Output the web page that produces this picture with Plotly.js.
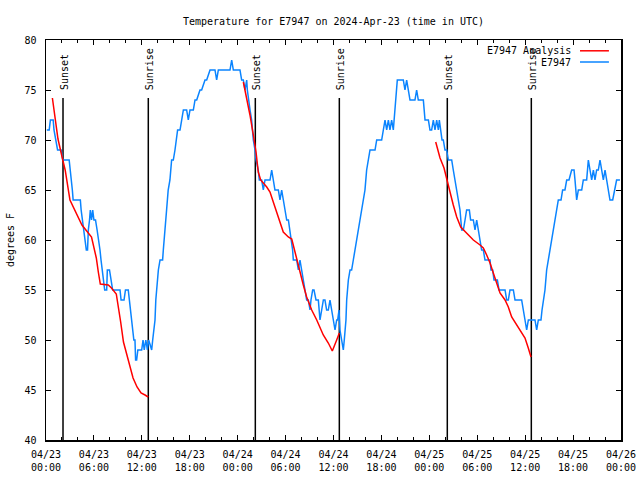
<!DOCTYPE html>
<html>
<head>
<meta charset="utf-8">
<script src="https://cdn.plot.ly/plotly-3.0.1.min.js"></script>
<style>html,body{margin:0;padding:0;background:#fff;}#chart{width:640px;height:480px;}</style>
</head>
<body>
<div id="chart"></div>
<script>
// ---- data (hours since 2024-04-23 00:00 UTC) ----
const blueHours = [0.1,0.4,0.55,0.9,1.0,1.2,1.45,1.9,2.1,2.9,3.05,3.2,3.3,3.4,4.3,4.4,4.55,4.7,4.85,5.05,5.2,5.3,5.45,5.55,5.7,5.85,6.0,6.2,6.4,6.6,6.76,6.89,7.05,7.2,7.35,7.6,7.68,7.95,8.14,8.35,9.27,9.4,9.77,9.95,10.3,10.45,10.6,10.78,10.85,11.0,11.14,11.22,11.35,11.5,11.98,12.15,12.3,12.5,12.7,12.85,13.05,13.23,13.36,13.5,13.65,13.75,13.94,14.07,14.28,14.6,14.69,14.85,15.1,15.3,15.52,15.73,15.94,16.15,16.36,16.48,16.78,16.99,17.2,17.4,17.61,17.82,18.03,18.45,18.66,18.87,19.28,19.49,19.91,20.12,20.54,20.95,21.16,21.37,21.58,23.04,23.25,23.46,24.29,24.5,24.71,24.92,25.13,25.21,25.34,25.55,25.75,25.96,26.17,26.3,26.58,26.71,27.0,27.21,27.42,27.63,28.05,28.26,28.47,28.67,28.88,29.09,29.3,29.51,29.72,29.93,30.14,30.35,30.55,30.68,30.88,30.97,31.18,31.39,31.6,31.72,31.8,32.01,32.22,32.43,32.64,32.85,33.06,33.18,33.39,33.56,33.81,34.1,34.31,34.52,34.73,34.93,35.14,35.35,35.56,35.77,35.98,36.19,36.4,36.52,36.69,36.81,37.02,37.23,37.35,37.56,37.65,37.86,38.07,38.27,38.48,38.69,38.9,39.11,39.32,39.53,39.73,39.94,40.15,40.36,40.57,41.2,41.41,42.03,42.24,42.45,42.66,42.87,43.07,43.28,43.49,43.7,43.91,43.99,44.74,44.95,45.16,45.37,45.58,46.2,46.41,46.62,46.83,47.25,47.46,47.67,47.88,48.08,48.29,48.5,48.71,48.92,49.13,49.25,49.42,49.59,49.75,49.96,50.17,50.38,50.59,50.8,51.0,51.21,51.42,51.63,51.84,52.05,52.26,52.47,52.67,53.01,53.17,53.51,53.72,53.93,54.14,54.35,54.55,54.76,54.97,55.18,55.6,55.72,55.93,56.1,56.35,56.52,56.73,57.48,57.69,57.89,58.1,58.31,58.52,58.73,58.94,59.56,59.77,59.98,60.19,60.4,60.61,61.23,61.44,61.65,61.86,61.98,62.11,62.27,62.48,62.69,62.9,63.11,63.32,63.53,63.74,63.94,64.15,64.36,64.49,64.69,64.98,65.2,65.49,65.82,66.12,66.24,66.45,66.66,66.87,67.08,67.28,67.7,67.91,68.12,68.33,68.54,68.74,68.95,69.16,69.37,69.58,69.79,70.0,70.2,70.41,70.62,70.96,71.25,71.45,71.66,71.87];
const blueTemps = [71,71,72,72,71,70,69,69,68,68,67,66,65,64,64,63,62,61,60,59,59,61,62,63,62,63,62,62,61,60,59,58,57,56,55,55,57,57,56,55,55,54,54,55,55,54,53,52,51,50,50,48,48,49,49,50,49,50,49,50,49.5,49,50,51,52,54,56,57,58,58,59,61,63,65,66,68,68,69,70,71,71,72,73,73,73,72,73,73,74,74,75,75,76,76,77,77,77,76,77,77,78,77,77,76,76,75,76,75,74,73,72,70,69,68,67,66,66,65,66,66,66,67,66,65,65,65,64,65,64,63,62,62,61,60,59,58,58,58,57,58,58,57,56,55,54,54,53,54,55,55,54,54,52,53,54,54,53,53,54,53,52,51,52,52,53,51,50,49,50,52,54,56,57,57,58,59,60,61,62,63,64,65,67,68,69,69,70,70,71,72,71,72,71,72,71,73,75,76,76,75,76,75,74,74,75,74,74,74,72,72,72,71,71,72,71,72,71,72,71,70,70,69,69,68,68,68,67,66,65,64,63,61,61,62,63,63,62,62,61,62,61,60,59,59,58,58,58,57,57,56,56,56,55,55,54,54,55,55,55,54,54,54,53,52,51,52,52,52,51,52,52,52,53,54,55,57,58,59,60,61,62,63,64,64,64,65,65,66,66,67,67,66,64,65,65,65,66,66,68,67,66,67,66,67,67,68,67,66,67,66,65,64,64,65,66,66,66];

const redHours1 = [0.8,1.5,2.1,2.4,3.0,4.5,5.7,6.3,6.55,6.8,7.8,8.2,8.8,9.05,9.35,9.7,10.2,10.5,10.9,11.4,11.9,12.4,12.8];
const redTemps1 = [74.2,70.1,68,67,64,61.5,60.3,58.2,56.8,55.6,55.5,55.2,54.6,53.5,51.8,49.8,48.2,47.3,46.2,45.3,44.7,44.5,44.3];
const redHours2 = [24.71,25.13,25.54,25.96,26.3,26.58,26.88,27.64,28.05,28.46,28.89,29.3,29.71,30.34,30.77,31.18,31.47,31.8,32.22,32.64,33.27,33.9,34.72,35.35,35.85,36.4,36.73];
const redTemps2 = [75.8,74.2,72.5,70.5,68.8,66.8,66,65.3,64.8,63.8,62.8,61.8,60.8,60.3,60.1,58.8,57.8,56.8,55.5,54.3,53,52,50.5,49.7,48.9,50,50.7];
const redHours3 = [48.8,49.34,49.84,50.25,50.59,51.0,51.43,51.93,52.68,53.51,54.35,54.76,55.18,55.6,56.01,56.44,56.85,57.48,57.89,58.31,58.94,59.57,59.98,60.39,60.73];
const redTemps3 = [69.8,68.2,67.2,66,64.8,63.5,62.3,61.3,60.7,60,59.5,59.2,58.5,57.7,56.7,55.7,54.7,54,53.3,52.3,51.5,50.8,50.2,49.2,48.3];

const sunHours = [2.13,12.81,26.21,36.73,50.25,60.77];
const sunLabels = ['Sunset','Sunrise','Sunset','Sunrise','Sunset','Sunrise'];

const tickHours = [0,6,12,18,24,30,36,42,48,54,60,66,72];
const tickLabels = ['04/23<br>00:00','04/23<br>06:00','04/23<br>12:00','04/23<br>18:00','04/24<br>00:00','04/24<br>06:00','04/24<br>12:00','04/24<br>18:00','04/25<br>00:00','04/25<br>06:00','04/25<br>12:00','04/25<br>18:00','04/26<br>00:00'];

const seriesNames = ['E7947 Analysis','E7947'];

// ---- styles ----
const RED = '#ff0000', BLUE = '#0a84ff';
const FONT = 'DejaVu Sans Mono, Liberation Mono, monospace';
const sunLineTop = 74.2, sunLabelY = 74.8, yMin = 40;

const redX = [].concat(redHours1, [null], redHours2, [null], redHours3);
const redY = [].concat(redTemps1, [null], redTemps2, [null], redTemps3);

const sunX = [], sunY = [];
sunHours.forEach(h => { sunX.push(h, h, null); sunY.push(yMin, sunLineTop, null); });

const traces = [
  {x: sunX, y: sunY, mode:'lines', line:{color:'black', width:1.5}, hoverinfo:'skip', showlegend:false},
  {x: blueHours, y: blueTemps, mode:'lines', name: seriesNames[1], line:{color:BLUE, width:1.5}, showlegend:false},
  {x: redX, y: redY, mode:'lines', name: seriesNames[0], line:{color:RED, width:1.5}, connectgaps:false, showlegend:false}
];

const annotations = sunHours.map((h,i) => ({
  x: h, y: sunLabelY, xref:'x', yref:'y', text: sunLabels[i], textangle:-90,
  showarrow:false, xanchor:'center', yanchor:'bottom', xshift:1, font:{family:FONT, size:10, color:'black'}
}));
// legend (gnuplot style: text right, sample line at right)
const legY = [0.973, 0.945];
const legColors = [RED, BLUE];
const shapes = [];
seriesNames.forEach((n,i) => {
  annotations.push({x:0.9165, y:legY[i], xref:'paper', yref:'paper', text:n, showarrow:false,
    xanchor:'right', yanchor:'middle', font:{family:FONT, size:10, color:'black'}});
  shapes.push({type:'line', xref:'paper', yref:'paper', x0:0.9287, x1:0.979, y0:legY[i], y1:legY[i],
    line:{color:legColors[i], width:1.5}});
});

const axisCommon = {
  ticks:'inside', ticklen:5, tickwidth:1, tickcolor:'black', showline:true, linecolor:'black', linewidth:1.5,
  mirror:'ticks', showgrid:false, zeroline:false, fixedrange:true,
  tickfont:{family:FONT, size:10, color:'black'}
};

const layout = {
  width:640, height:480,
  margin:{l:46, r:19, t:40, b:40, pad:0},
  paper_bgcolor:'white', plot_bgcolor:'white',
  font:{family:FONT, size:10, color:'black'},
  title:{text:'Temperature for E7947 on 2024-Apr-23 (time in UTC)', x:0.5, xref:'paper', xanchor:'center',
    y:1-21/480, yref:'container', yanchor:'middle', font:{family:FONT, size:10, color:'black'}},
  showlegend:false,
  xaxis: Object.assign({}, axisCommon, {range:[0,72], tickmode:'array', tickvals:tickHours, ticktext:tickLabels,
    ticklabelstandoff:4,
    minor:{tickmode:'linear', tick0:0, dtick:2, ticks:'inside', ticklen:3, tickcolor:'black', showgrid:false}}),
  yaxis: Object.assign({}, axisCommon, {range:[40,80], tick0:40, dtick:5, ticklabelstandoff:6,
    title:{text:'degrees F', standoff:8, font:{family:FONT, size:10, color:'black'}}}),
  annotations: annotations,
  shapes: shapes
};

Plotly.newPlot('chart', traces, layout, {displayModeBar:false, staticPlot:true});
</script>
</body>
</html>
